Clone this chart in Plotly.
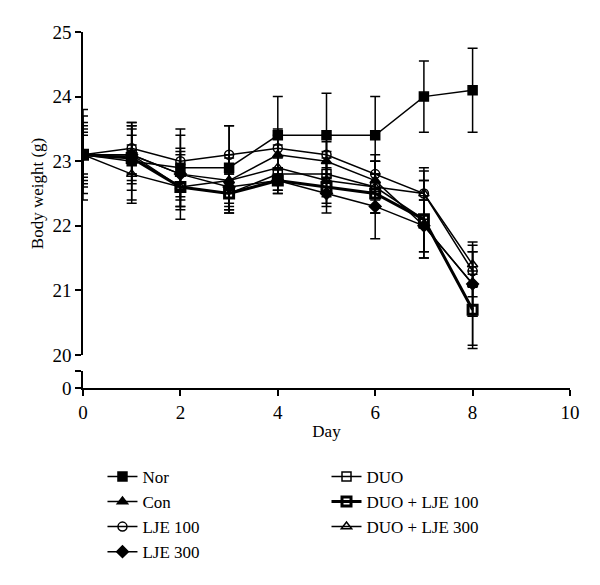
import plotly.graph_objects as go

days = [0, 1, 2, 3, 4, 5, 6, 7, 8]

nor = [23.1, 23.0, 22.9, 22.9, 23.4, 23.4, 23.4, 24.0, 24.1]
con = [23.1, 23.1, 22.8, 22.7, 23.1, 23.0, 22.7, 22.0, 21.1]
lje100 = [23.1, 23.2, 23.0, 23.1, 23.2, 23.1, 22.8, 22.5, 21.3]
lje300 = [23.1, 23.1, 22.8, 22.6, 22.7, 22.5, 22.3, 22.0, 21.1]
duo = [23.1, 23.1, 22.6, 22.5, 22.8, 22.8, 22.6, 22.1, 20.7]
duo_lje100 = [23.1, 23.05, 22.6, 22.5, 22.7, 22.6, 22.5, 22.1, 20.7]
duo_lje300 = [23.1, 22.8, 22.6, 22.7, 22.9, 22.7, 22.6, 22.5, 21.4]

nor_err = [0.7, 0.6, 0.6, 0.65, 0.6, 0.65, 0.6, 0.55, 0.65]
con_err = [0.5, 0.4, 0.4, 0.4, 0.3, 0.3, 0.3, 0.4, 0.5]
lje100_err = [0.4, 0.4, 0.4, 0.45, 0.3, 0.3, 0.3, 0.4, 0.4]
lje300_err = [0.6, 0.3, 0.35, 0.35, 0.2, 0.3, 0.5, 0.4, 0.5]
duo_err = [0.3, 0.45, 0.5, 0.3, 0.25, 0.35, 0.4, 0.6, 0.55]
duo_lje100_err = [0.45, 0.5, 0.3, 0.3, 0.2, 0.3, 0.3, 0.6, 0.6]
duo_lje300_err = [0.35, 0.45, 0.35, 0.35, 0.35, 0.35, 0.4, 0.35, 0.35]

series = [
    ("Nor", nor, nor_err, "square", 1.5, "legend"),
    ("Con", con, con_err, "triangle-up", 1.5, "legend"),
    ("LJE 100", lje100, lje100_err, "circle-open", 1.5, "legend"),
    ("LJE 300", lje300, lje300_err, "diamond", 1.5, "legend"),
    ("DUO", duo, duo_err, "square-open", 1.5, "legend2"),
    ("DUO + LJE 100", duo_lje100, duo_lje100_err, "square-open", 3, "legend2"),
    ("DUO + LJE 300", duo_lje300, duo_lje300_err, "triangle-up-open", 1.5, "legend2"),
]

fig = go.Figure()

for name, vals, err, sym, lw, leg in series:
    fig.add_trace(go.Scatter(
        x=days, y=vals, name=name, mode="lines+markers",
        xaxis="x", yaxis="y",
        line=dict(color="black", width=lw),
        marker=dict(symbol=sym, size=9, color="black",
                    line=dict(color="black", width=lw)),
        error_y=dict(type="data", array=err, visible=True, color="black",
                     thickness=1.5, width=5),
        legend=leg,
    ))

# invisible trace so the lower (broken) axis panel is drawn
fig.add_trace(go.Scatter(x=[None], y=[None], xaxis="x2", yaxis="y2",
                         showlegend=False, hoverinfo="skip", mode="lines"))

font_family = "Liberation Serif"
axis_common = dict(showline=True, linecolor="black", linewidth=1.5,
                   ticks="outside", ticklen=6, tickwidth=1.5, tickcolor="black",
                   showgrid=False, zeroline=False, tickfont=dict(size=19))

fig.update_layout(
    width=600, height=585,
    margin=dict(l=75, r=38, t=24, b=205, autoexpand=False),
    plot_bgcolor="white", paper_bgcolor="white",
    font=dict(family=font_family, size=17, color="black"),
    showlegend=True,
    legend=dict(x=0.04, y=-0.199, xanchor="left", yanchor="top",
                font=dict(size=17), tracegroupgap=0, itemwidth=30,
                bgcolor="rgba(0,0,0,0)"),
    legend2=dict(x=0.50, y=-0.199, xanchor="left", yanchor="top",
                 font=dict(size=17), tracegroupgap=0, itemwidth=30,
                 bgcolor="rgba(0,0,0,0)"),
    xaxis=dict(range=[0, 10], visible=False, domain=[0, 1], anchor="y",
               matches="x2"),
    yaxis=dict(range=[20, 25], tickvals=[20, 21, 22, 23, 24, 25],
               domain=[0.0927, 1.0], anchor="x",
               title=dict(text="Body weight (g)", standoff=4,
                          font=dict(size=17)),
               **axis_common),
    xaxis2=dict(range=[0, 10], tickvals=[0, 2, 4, 6, 8, 10], domain=[0, 1],
                anchor="y2",
                title=dict(text="Day", standoff=4, font=dict(size=17)),
                **axis_common),
    yaxis2=dict(range=[0, 1], tickvals=[0, 1], ticktext=["0", ""],
                domain=[0.0, 0.0478], anchor="x2", **axis_common),
)

fig.write_html("out.html")
